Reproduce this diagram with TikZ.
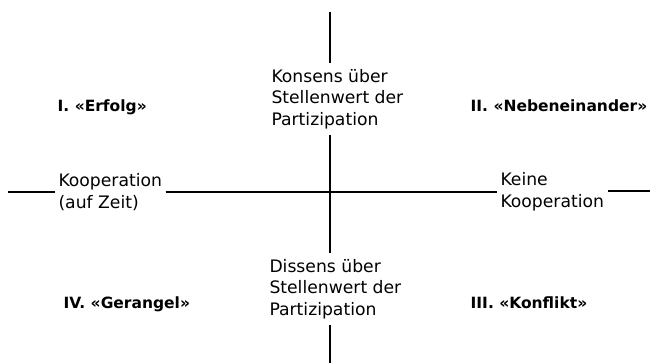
\documentclass[tikz,border=0pt]{standalone}
\usepackage{fontspec}
\setmainfont{DejaVu Sans}
\usetikzlibrary{positioning}

\begin{document}
\begin{tikzpicture}[x=1pt, y=-1pt, line width=1.4pt,
        axis_label/.style={align=left, inner sep=0pt, outer xsep=3.5pt, outer ysep=6pt, font=\fontsize{17.2}{21.5}\selectfont},
        quad_label/.style={inner sep=0pt, anchor=base west, font=\fontsize{15.5}{21.5}\selectfont\bfseries}]
        \useasboundingbox (0,0) rectangle (651,363);
        \coordinate (center) at (330,192);
        \coordinate (top_end) at (330,12);
        \coordinate (bottom_end) at (330,363);
        \coordinate (left_end) at (8,192);
        \coordinate (right_end) at (650,191);

        % Vertical axis: Konsens / Dissens
        \node[axis_label, anchor=north west] at (268,63) (konsens) {Konsens über\\Stellenwert der\\Partizipation};
        \node[axis_label, anchor=north west] at (266,253) (dissens) {Dissens über\\Stellenwert der\\Partizipation};
        \draw (top_end) -- (konsens.north -| center);
        \draw (konsens.south -| center) -- (dissens.north -| center);
        \draw (dissens.south -| center) -- (bottom_end);

        % Horizontal axis: Kooperation / Keine Kooperation
        \node[axis_label, anchor=west] at (55,192) (kooperation) {Kooperation\\(auf Zeit)};
        \node[axis_label, anchor=west] at (497,192) (keine_koop) {Keine\\Kooperation};
        \draw (left_end) -- (kooperation.west);
        \draw (kooperation.east) -- (keine_koop.west);
        \draw (keine_koop.east |- right_end) -- (right_end);

        % Quadrants
        \node[quad_label] at (57,112) (erfolg) {I. «Erfolg»};
        \node[quad_label] at (470,112) (nebeneinander) {II. «Nebeneinander»};
        \node[quad_label] at (470,309) (konflikt) {III. «Konflikt»};
        \node[quad_label] at (63,309) (gerangel) {IV. «Gerangel»};
\end{tikzpicture}
\end{document}
